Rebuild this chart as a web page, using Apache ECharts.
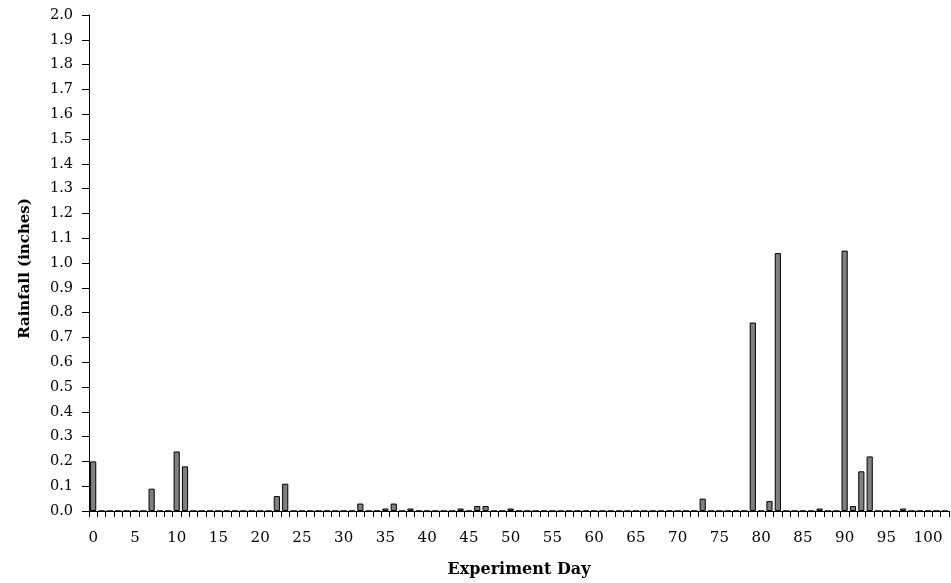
<!DOCTYPE html>
<html>
<head>
<meta charset="utf-8">
<script src="https://cdn.jsdelivr.net/npm/echarts@6/dist/echarts.min.js"></script>
<style>
html,body{margin:0;padding:0;background:#fff;}
#chart{width:951px;height:583px;}
</style>
</head>
<body>
<div id="chart"></div>
<script>
// Experiment days 0..102
const days = Array.from({length: 103}, (_, i) => String(i));
// Rainfall events (day -> inches)
const rainDays = [0, 7, 10, 11, 22, 23, 32, 35, 36, 38, 44, 46, 47, 50, 73, 79, 81, 82, 87, 90, 91, 92, 93, 97];
const rainValues = [0.20, 0.09, 0.24, 0.18, 0.06, 0.11, 0.03, 0.01, 0.03, 0.01, 0.01, 0.02, 0.02, 0.01, 0.05, 0.76, 0.04, 1.04, 0.01, 1.05, 0.02, 0.16, 0.22, 0.01];

const rainfall = days.map(() => 0);
rainDays.forEach((d, i) => { rainfall[d] = rainValues[i]; });

const font = 'DejaVu Serif';
const chart = echarts.init(document.getElementById('chart'), null, {renderer: 'canvas'});
chart.setOption({
  animation: false,
  backgroundColor: '#ffffff',
  grid: {left: 89, right: 2, top: 15, bottom: 71, containLabel: false},
  xAxis: {
    type: 'category',
    data: days,
    boundaryGap: true,
    name: 'Experiment Day',
    nameLocation: 'middle',
    nameGap: 51,
    nameTextStyle: {fontFamily: font, fontWeight: 'bold', fontSize: 16, color: '#000'},
    axisLine: {lineStyle: {color: '#000', width: 1}},
    axisTick: {show: true, interval: 0, length: 6, lineStyle: {color: '#000'}},
    axisLabel: {interval: 4, margin: 20, fontFamily: font, fontSize: 15, color: '#000'},
    splitLine: {show: false}
  },
  yAxis: {
    type: 'value',
    min: 0,
    max: 2,
    interval: 0.1,
    name: 'Rainfall (inches)',
    nameLocation: 'middle',
    nameGap: 56,
    nameTextStyle: {fontFamily: font, fontWeight: 'bold', fontSize: 15, color: '#000', padding: [0, 11, 0, 0]},
    axisLine: {show: true, lineStyle: {color: '#000', width: 1}},
    axisTick: {show: true, length: 7, lineStyle: {color: '#000'}},
    axisLabel: {margin: 16, fontFamily: font, fontSize: 14.5, color: '#000', formatter: v => v.toFixed(1)},
    splitLine: {show: false}
  },
  series: [{
    type: 'bar',
    data: rainfall,
    barCategoryGap: '26%',
    itemStyle: {color: '#808080', borderColor: '#000', borderWidth: 1}
  }]
});
</script>
</body>
</html>
